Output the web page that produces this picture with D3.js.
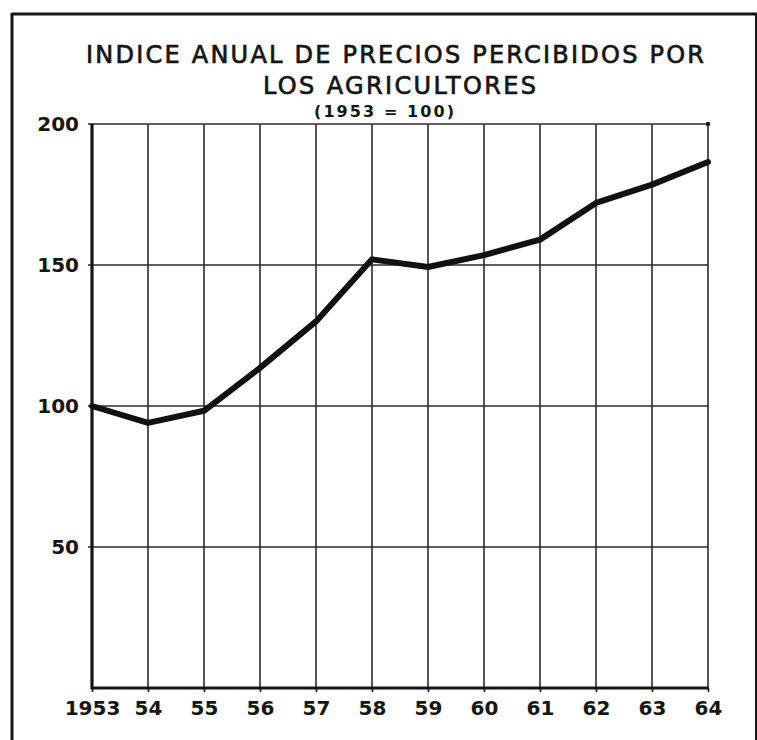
<!DOCTYPE html>
<html>
<head>
<meta charset="utf-8">
<script src="https://cdn.jsdelivr.net/npm/d3@7"></script>
<style>
  html, body { margin: 0; padding: 0; background: #fff; }
  svg { display: block; }
</style>
</head>
<body>
<svg id="chart" width="757" height="740"></svg>
<script>
const titleLines = ["INDICE ANUAL DE PRECIOS PERCIBIDOS POR", "LOS AGRICULTORES"];
const subtitle = "(1953 = 100)";
const years = ["1953", "54", "55", "56", "57", "58", "59", "60", "61", "62", "63", "64"];
const values = [100, 94, 98.3, 113.5, 130, 152, 149.3, 153.5, 159, 172, 178.5, 186.5];
const yTicks = [50, 100, 150, 200];

const svg = d3.select("#chart");
const ink = "#151515";

// frame
svg.append("line").attr("x1", 12).attr("x2", 757).attr("y1", 14).attr("y2", 14)
  .attr("stroke", ink).attr("stroke-width", 3);
svg.append("line").attr("x1", 12).attr("x2", 12).attr("y1", 13).attr("y2", 740)
  .attr("stroke", ink).attr("stroke-width", 3);
svg.append("line").attr("x1", 756).attr("x2", 756).attr("y1", 13).attr("y2", 740)
  .attr("stroke", ink).attr("stroke-width", 2);

// titles
const titleFont = "'DejaVu Sans', 'Liberation Sans', sans-serif";
svg.append("text").attr("x", 86).attr("y", 63)
  .attr("textLength", 618).attr("lengthAdjust", "spacing")
  .attr("font-family", titleFont).attr("font-size", 24).attr("fill", ink)
  .attr("stroke", ink).attr("stroke-width", 0.7)
  .text(titleLines[0]);
svg.append("text").attr("x", 263).attr("y", 94)
  .attr("textLength", 273).attr("lengthAdjust", "spacing")
  .attr("font-family", titleFont).attr("font-size", 24).attr("fill", ink)
  .attr("stroke", ink).attr("stroke-width", 0.7)
  .text(titleLines[1]);
svg.append("text").attr("x", 314).attr("y", 117)
  .attr("textLength", 140).attr("lengthAdjust", "spacing")
  .attr("font-family", "'DejaVu Sans', 'Liberation Sans', sans-serif").attr("font-weight", "bold")
  .attr("font-size", 16).attr("fill", ink)
  .text(subtitle);

// scales
const x = d3.scalePoint().domain(years).range([92, 708]);
const y = d3.scaleLinear().domain([0, 200]).range([688, 124]);

// vertical grid
svg.append("g").selectAll("line").data(years.slice(1)).join("line")
  .attr("x1", d => x(d)).attr("x2", d => x(d))
  .attr("y1", y(200)).attr("y2", y(0))
  .attr("stroke", "#2a2a2a").attr("stroke-width", 1.6);

// horizontal grid
svg.append("g").selectAll("line").data(yTicks).join("line")
  .attr("x1", x(years[0]) - 4).attr("x2", x(years[years.length - 1]))
  .attr("y1", d => y(d)).attr("y2", d => y(d))
  .attr("stroke", "#2a2a2a").attr("stroke-width", 1.6);

// corner dot
svg.append("circle").attr("cx", x(years[years.length - 1])).attr("cy", y(200)).attr("r", 2.2).attr("fill", ink);

// y axis
const yAxis = d3.axisLeft(y).tickValues(yTicks).tickSize(0).tickPadding(13);
const gy = svg.append("g").attr("transform", `translate(${x(years[0])},0)`).call(yAxis);
gy.select(".domain").remove();
gy.selectAll("text").attr("font-family", "'DejaVu Sans', 'Liberation Sans', sans-serif").attr("font-weight", "bold")
  .attr("font-size", 20).attr("fill", ink);

// x axis
const xAxis = d3.axisBottom(x).tickSize(4).tickPadding(9);
const gx = svg.append("g").attr("transform", `translate(0,${y(0)})`).call(xAxis);
gx.select(".domain").remove();
gx.selectAll("line").attr("stroke", ink).attr("stroke-width", 1.6);
gx.selectAll("text").attr("font-family", "'DejaVu Sans', 'Liberation Sans', sans-serif")
  .attr("font-weight", "bold").attr("font-size", 20).attr("fill", ink);

// thick axes lines
svg.append("line").attr("x1", x(years[0])).attr("x2", x(years[0]))
  .attr("y1", y(200)).attr("y2", y(0) + 1.5)
  .attr("stroke", ink).attr("stroke-width", 3.2);
svg.append("line").attr("x1", x(years[0])).attr("x2", x(years[years.length - 1]) + 1)
  .attr("y1", y(0)).attr("y2", y(0))
  .attr("stroke", ink).attr("stroke-width", 3.2);

// data line
const line = d3.line().x((d, i) => x(years[i])).y(d => y(d));
svg.append("path").datum(values).attr("d", line)
  .attr("fill", "none").attr("stroke", "#111").attr("stroke-width", 6)
  .attr("stroke-linejoin", "round").attr("stroke-linecap", "round");
</script>
</body>
</html>
